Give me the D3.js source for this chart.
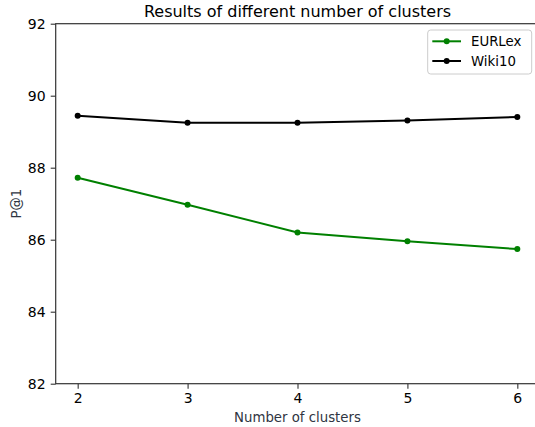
<!DOCTYPE html>
<html>
<head>
<meta charset="utf-8">
<script src="https://cdn.jsdelivr.net/npm/d3@7"></script>
<style>
  body { margin: 0; background: #fff; }
  svg { display: block; font-family: "DejaVu Sans", sans-serif; }
</style>
</head>
<body>
<svg id="chart" width="535" height="427"></svg>
<script>
// data
var clusters = [2, 3, 4, 5, 6];
var eurlex = [87.72, 86.97, 86.20, 85.96, 85.74];
var wiki10 = [89.44, 89.25, 89.25, 89.31, 89.41];
var yTicks = [82, 84, 86, 88, 90, 92];
var seriesNames = ["EURLex", "Wiki10"];
var seriesColors = ["#008000", "#000000"];

var svg = d3.select("#chart");
// plot box (window.top is read-only, so no plain "top")
var box = {left : 55.7, right : 539.3, top : 23.7, bottom : 383.7};

var x = d3.scaleLinear().domain([1.8, 6.2]).range([box.left, box.right]);
var y = d3.scaleLinear().domain([82, 92]).range([box.bottom, box.top]);

//axes
var xAxis = svg.append("g")
  .attr("transform", "translate(0," + box.bottom + ")")
  .call(d3.axisBottom(x).tickValues(clusters).tickSize(5).tickPadding(4).tickFormat(d3.format("d")));
var yAxis = svg.append("g")
  .attr("transform", "translate(" + box.left + ",0)")
  .call(d3.axisLeft(y).tickValues(yTicks).tickSize(5).tickPadding(5).tickFormat(d3.format("d")));

[xAxis, yAxis].forEach(function(g){
  g.selectAll("text").attr("font-size", 14).attr("fill", "#000").attr("font-family", "DejaVu Sans");
  g.selectAll(".tick line").attr("stroke", "#333").attr("stroke-width", 1.1);
  g.select(".domain").remove();
});

//spines
svg.append("rect")
  .attr("x", box.left).attr("y", box.top)
  .attr("width", box.right - box.left).attr("height", box.bottom - box.top)
  .attr("fill", "none").attr("stroke", "#333").attr("stroke-width", 1.2);

//lines
var line = d3.line()
  .x(function(d){ return x(d[0]); })
  .y(function(d){ return y(d[1]); });

[eurlex, wiki10].forEach(function(vals, i){
  var pts = clusters.map(function(c, j){ return [c, vals[j]]; });
  svg.append("path")
    .datum(pts)
    .attr("d", line)
    .attr("fill", "none")
    .attr("stroke", seriesColors[i])
    .attr("stroke-width", 2);
  svg.selectAll(".pt" + i)
    .data(pts)
    .enter()
    .append("circle")
    .attr("class", "pt" + i)
    .attr("cx", function(d){ return x(d[0]); })
    .attr("cy", function(d){ return y(d[1]); })
    .attr("r", 3)
    .attr("fill", seriesColors[i]);
});

//title and labels
svg.append("text")
  .attr("x", (box.left + box.right) / 2).attr("y", 16.5)
  .attr("text-anchor", "middle")
  .attr("font-size", 16)
  .text("Results of different number of clusters");

svg.append("text")
  .attr("x", (box.left + box.right) / 2).attr("y", 422)
  .attr("text-anchor", "middle")
  .attr("font-size", 13.3)
  .attr("fill", "#2f3542")
  .text("Number of clusters");

svg.append("text")
  .attr("transform", "translate(21," + (box.top + box.bottom) / 2 + ") rotate(-90)")
  .attr("text-anchor", "middle")
  .attr("font-size", 13.3)
  .attr("fill", "#2f3542")
  .text("P@1");

//legend
var legend = svg.append("g");
legend.append("rect")
  .attr("x", 427.7).attr("y", 30)
  .attr("width", 104).attr("height", 44)
  .attr("rx", 3)
  .attr("fill", "#fff").attr("fill-opacity", 0.8)
  .attr("stroke", "#ccc").attr("stroke-width", 1);

seriesNames.forEach(function(name, i){
  var ly = 41.3 + i * 19.7;
  legend.append("line")
    .attr("x1", 432.3).attr("x2", 461)
    .attr("y1", ly).attr("y2", ly)
    .attr("stroke", seriesColors[i]).attr("stroke-width", 2);
  legend.append("circle")
    .attr("cx", 446.7).attr("cy", ly).attr("r", 3)
    .attr("fill", seriesColors[i]);
  legend.append("text")
    .attr("x", 471).attr("y", ly + 5)
    .attr("font-size", 13.3)
    .text(name);
});
</script>
</body>
</html>
